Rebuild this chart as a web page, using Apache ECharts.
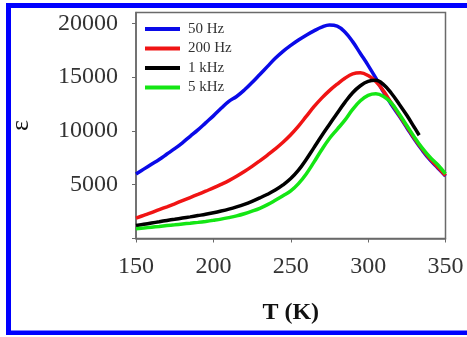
<!DOCTYPE html>
<html>
<head>
<meta charset="utf-8">
<script src="https://cdn.jsdelivr.net/npm/echarts@6/dist/echarts.min.js"></script>
<style>
  html, body { margin: 0; padding: 0; background: #fff; }
  #chart { width: 467px; height: 337px; }
</style>
</head>
<body>
<div id="chart"></div>
<script>
// Temperature grid (K)
const temps = [150,155,160,165,170,175,180,185,190,195,200,205,210,215,220,225,230,235,240,245,
               250,255,260,265,270,275,280,285,290,295,300,305,310,315,320,325,330,335,340,345,350];
// The 1 kHz run stops a little earlier
const tempsKHz1 = [150,155,160,165,170,175,180,185,190,195,200,205,210,215,220,225,230,235,240,245,
                   250,255,260,265,270,275,280,285,290,295,300,305,310,315,320,325,330,333];

// Dielectric permittivity ε per frequency
const eps50Hz = [6000,6450,6900,7350,7850,8350,8900,9500,10100,10750,11400,12100,12750,13200,13800,
                 14500,15250,16000,16750,17400,17950,18450,18900,19300,19650,19850,19750,19200,18300,
                 17200,16100,14900,13600,12450,11400,10300,9200,8200,7300,6550,5800];
const eps200Hz = [1900,2150,2400,2680,2950,3230,3520,3810,4100,4400,4700,5030,5380,5780,6220,6700,
                  7220,7760,8330,8950,9650,10450,11350,12250,13050,13750,14350,14900,15300,15400,
                  15150,14600,13700,12600,11500,10400,9300,8300,7400,6650,5850];
const eps1kHz = [1200,1320,1440,1560,1680,1790,1900,2010,2130,2250,2390,2550,2730,2940,3180,3460,
                 3770,4110,4500,4980,5570,6350,7350,8450,9550,10600,11650,12650,13550,14200,14600,
                 14700,14300,13500,12500,11450,10300,9600];
const eps5kHz = [900,970,1050,1120,1200,1270,1350,1420,1500,1590,1690,1800,1940,2100,2300,2540,
                 2810,3150,3550,3970,4420,5100,6000,7100,8250,9300,10150,11000,12000,12800,13300,
                 13450,13200,12600,11600,10500,9400,8400,7550,6850,6000];

const seriesNames = ['50 Hz', '200 Hz', '1 kHz', '5 kHz'];
const yTicks = [0, 5000, 10000, 15000, 20000];
const xTicks = [150, 200, 250, 300, 350];

const colors = ['#0a0ae8', '#f01414', '#000000', '#14e614'];
const serif = '"Liberation Serif", "Times New Roman", serif';

function pairs(xs, ys) { return xs.map((x, i) => [x, ys[i]]); }

const curves = [
  pairs(temps, eps50Hz),
  pairs(temps, eps200Hz),
  pairs(tempsKHz1, eps1kHz),
  pairs(temps, eps5kHz)
];

const chart = echarts.init(document.getElementById('chart'), null, { renderer: 'canvas' });

chart.setOption({
  backgroundColor: '#ffffff',
  animation: false,
  grid: {
    left: 131, right: 21.5, top: 12.6, bottom: 98.5,
    show: true, borderColor: '#6a6a6a', borderWidth: 1.5, backgroundColor: 'transparent'
  },
  legend: {
    data: seriesNames,
    orient: 'vertical',
    left: 140, top: 16.5,
    icon: 'rect',
    itemWidth: 35, itemHeight: 4,
    itemGap: 4.5,
    textStyle: { fontFamily: serif, fontSize: 15, color: '#333', lineHeight: 15, padding: [0, 0, 0, 3] }
  },
  xAxis: {
    type: 'value',
    min: xTicks[0], max: xTicks[xTicks.length - 1], interval: 50,
    name: 'T (K)',
    nameLocation: 'middle',
    nameGap: 62,
    nameTextStyle: { fontFamily: serif, fontSize: 24, fontWeight: 'bold', color: '#111' },
    axisLine: { show: true, lineStyle: { color: '#6a6a6a', width: 1.5 } },
    axisTick: { show: true, inside: false, length: 4, lineStyle: { color: '#6a6a6a' } },
    axisLabel: { fontFamily: serif, fontSize: 24, color: '#333', margin: 16 },
    splitLine: { show: false }
  },
  yAxis: {
    type: 'value',
    min: yTicks[0], max: 21000, interval: 5000,
    name: 'ε',
    nameLocation: 'middle',
    nameRotate: 90,
    nameGap: 102,
    nameTextStyle: { fontFamily: serif, fontSize: 26, color: '#111' },
    axisLine: { show: true, lineStyle: { color: '#6a6a6a', width: 1.5 } },
    axisTick: { show: true, inside: false, length: 4, lineStyle: { color: '#6a6a6a' } },
    axisLabel: {
      fontFamily: serif, fontSize: 24, color: '#333', margin: 18,
      formatter: v => (v === 0 ? '' : String(v))
    },
    splitLine: { show: false }
  },
  series: curves.map((d, i) => ({
    name: seriesNames[i],
    type: 'line',
    data: d,
    smooth: 0.4,
    showSymbol: false,
    lineStyle: { color: colors[i], width: 3.5 },
    itemStyle: { color: colors[i] },
    z: 2 + i
  })),
  graphic: [
    // frame around the figure (left, top, bottom)
    { type: 'rect', shape: { x: 6, y: 3, width: 461, height: 5 }, style: { fill: '#0000ff' }, silent: true },
    { type: 'rect', shape: { x: 6, y: 3, width: 5, height: 332 }, style: { fill: '#0000ff' }, silent: true },
    { type: 'rect', shape: { x: 6, y: 330.5, width: 461, height: 4.5 }, style: { fill: '#0000ff' }, silent: true }
  ]
});
</script>
</body>
</html>
